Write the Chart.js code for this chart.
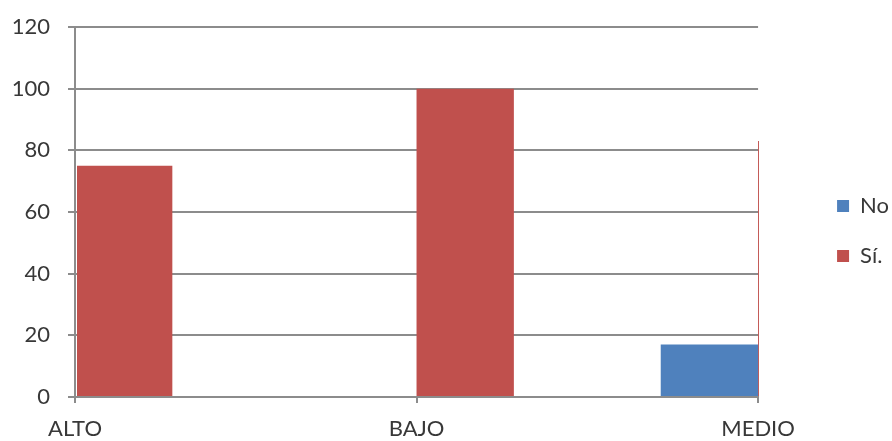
<!DOCTYPE html>
<html>
<head>
<meta charset="utf-8">
<script src="https://cdn.jsdelivr.net/npm/chart.js@4/dist/chart.umd.min.js"></script>
<style>
  html, body { margin: 0; padding: 0; background: #ffffff; }
  #wrap { width: 892px; height: 441px; }
</style>
</head>
<body>
<div id="wrap"><canvas id="c" width="892" height="441"></canvas></div>
<script>
// Categories and series values
const categories = ['ALTO', 'BAJO', 'MEDIO'];
const seriesNo = [25, 0, 17];
const seriesSi = [75, 100, 83];
const seriesNames = ['No', 'Sí.'];
const yTicks = [0, 20, 40, 60, 80, 100, 120];

const FONT = 'Lato, "Open Sans", "Liberation Sans", sans-serif';
const TEXT = '#383838';
const GRID = '#8c8c8c';

// Bars are cut at the plot edges, as on a category axis without offset
const barClip = { left: -2, top: false, right: 1, bottom: 0 };

// Moves the legend block away from the plot area by a fixed offset
const legendShift = {
  id: 'legendShift',
  afterLayout(chart, args, opts) {
    const lg = chart.legend;
    if (lg) {
      lg.left += opts.dx; lg.right += opts.dx;
      lg.top += opts.dy; lg.bottom += opts.dy;
    }
  }
};

new Chart(document.getElementById('c'), {
  type: 'bar',
  data: {
    labels: categories,
    datasets: [
      { label: seriesNames[0], data: seriesNo, backgroundColor: '#4f81bd', clip: barClip },
      { label: seriesNames[1], data: seriesSi, backgroundColor: '#c0504d', clip: barClip }
    ]
  },
  plugins: [legendShift],
  options: {
    responsive: false,
    devicePixelRatio: 1,
    animation: false,
    layout: { padding: { top: 27, right: 44, bottom: 0, left: 0 } },
    datasets: { bar: { categoryPercentage: 0.57, barPercentage: 1.0 } },
    plugins: {
      tooltip: { enabled: false },
      legendShift: { dx: 51, dy: -3 },
      legend: {
        position: 'right',
        labels: {
          boxWidth: 12,
          boxHeight: 12,
          padding: 28,
          color: TEXT,
          font: { family: FONT, size: 22 }
        }
      }
    },
    scales: {
      x: {
        offset: false,
        grid: { display: true, offset: false, drawOnChartArea: false, drawTicks: true, tickLength: 6, color: GRID, lineWidth: 2 },
        border: { display: true, color: GRID, width: 2 },
        ticks: { color: TEXT, padding: 13, maxRotation: 0, font: { family: FONT, size: 22 } },
        afterFit: (s) => { s.height = 44; }
      },
      y: {
        min: 0,
        max: 120,
        afterBuildTicks: (s) => { s.ticks = yTicks.map(v => ({ value: v })); },
        grid: { color: GRID, lineWidth: 2, tickLength: 7 },
        border: { display: true, color: GRID, width: 2 },
        ticks: { color: TEXT, padding: 18, font: { family: FONT, size: 22 } },
        afterFit: (s) => { s.width = 75; s.paddingTop = 0; s.paddingBottom = 0; }
      }
    }
  }
});
</script>
</body>
</html>
